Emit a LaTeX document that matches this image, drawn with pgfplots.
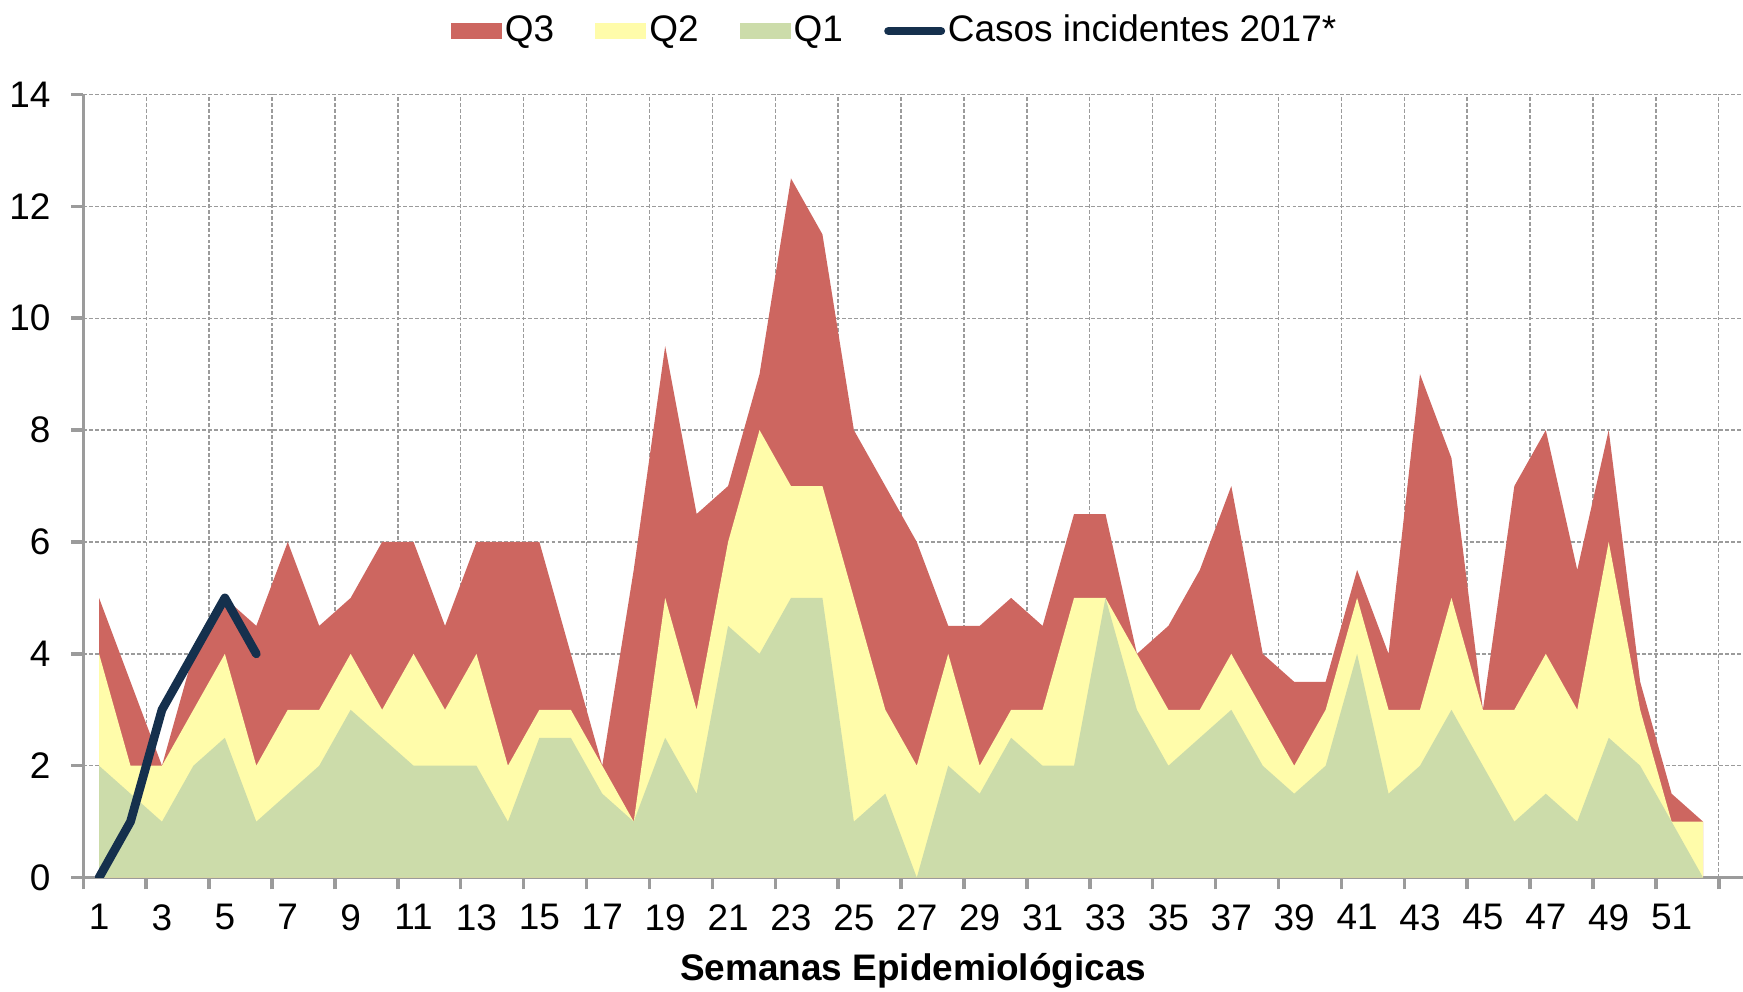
\documentclass[border=0pt]{standalone}
\usepackage{fontspec}
\setmainfont{Liberation Sans}
\usepackage{pgfplots}
\usepackage{pgfplotstable}
\pgfplotsset{compat=1.18}

\definecolor{cQ3}{RGB}{205,102,96}
\definecolor{cQ2}{RGB}{255,252,170}
\definecolor{cQ1}{RGB}{204,220,170}
\definecolor{cCasos}{RGB}{21,48,77}
\definecolor{cGrid}{RGB}{155,155,155}

% quartiles per epidemiological week
\pgfplotstableread{
sem q3  q2 q1
1   5   4  2
2   3.5 2  1.5
3   2   2  1
4   4   3  2
5   5   4  2.5
6   4.5 2  1
7   6   3  1.5
8   4.5 3  2
9   5   4  3
10  6   3  2.5
11  6   4  2
12  4.5 3  2
13  6   4  2
14  6   2  1
15  6   3  2.5
16  4   3  2.5
17  2   2  1.5
18  5.5 1  1
19  9.5 5  2.5
20  6.5 3  1.5
21  7   6  4.5
22  9   8  4
23  12.5 7 5
24  11.5 7 5
25  8   5  1
26  7   3  1.5
27  6   2  0
28  4.5 4  2
29  4.5 2  1.5
30  5   3  2.5
31  4.5 3  2
32  6.5 5  2
33  6.5 5  5
34  4   4  3
35  4.5 3  2
36  5.5 3  2.5
37  7   4  3
38  4   3  2
39  3.5 2  1.5
40  3.5 3  2
41  5.5 5  4
42  4   3  1.5
43  9   3  2
44  7.5 5  3
45  3   3  2
46  7   3  1
47  8   4  1.5
48  5.5 3  1
49  8   6  2.5
50  3.5 3  2
51  1.5 1  1
52  1   1  0
}\quartiles

\pgfplotstableread{
sem casos
1 0
2 1
3 3
4 4
5 5
6 4
}\casos

\begin{document}
\begin{tikzpicture}
\begin{axis}[
  set layers=standard,
  scale only axis,
  width=476pt, height=224.6pt,
  xmin=0.5, xmax=53.27,
  ymin=0, ymax=14,
  axis x line*=bottom, axis y line*=left,
  axis line style={cGrid, line width=1pt},
  tick align=outside,
  major tick length=3.4pt,
  tick style={cGrid, line width=1pt},
  ytick={0,2,...,14},
  xtick={0.5,2.5,...,52.5},
  xticklabels={},
  extra x ticks={1,3,...,51},
  extra x tick style={major tick length=0pt, grid=none},
  xmajorgrids, ymajorgrids,
  grid style={cGrid, line width=0.4pt, dash pattern=on 1.1pt off 0.6pt},
  tick label style={font=\fontsize{10.6}{12}\selectfont,
    /pgf/number format/assume math mode=true},
  yticklabel style={xshift=-2.5pt},
  xticklabel style={yshift=-4.2pt},
  xlabel={\textbf{Semanas Epidemiológicas}},
  xlabel style={font=\fontsize{10.6}{12}\selectfont,
    at={(axis description cs:0.5,-0.1193)}, anchor=center},
  legend style={at={(0.489,1.081)}, anchor=center,
    legend columns=-1, draw=none, fill=none,
    font=\fontsize{10.6}{12}\selectfont,
    nodes={inner sep=0.8pt},
    /tikz/every even column/.append style={column sep=11pt}},
]
\addplot[fill=cQ3, draw=none,
  legend image code/.code={\fill[cQ3] (0pt,-2.4pt) rectangle (14.7pt,2.4pt);}]
  table[x=sem, y=q3] {\quartiles} \closedcycle;
\addlegendentry{Q3}
\addplot[fill=cQ2, draw=none,
  legend image code/.code={\fill[cQ2] (0pt,-2.4pt) rectangle (14.7pt,2.4pt);}]
  table[x=sem, y=q2] {\quartiles} \closedcycle;
\addlegendentry{Q2}
\addplot[fill=cQ1, draw=none,
  legend image code/.code={\fill[cQ1] (0pt,-2.4pt) rectangle (14.7pt,2.4pt);}]
  table[x=sem, y=q1] {\quartiles} \closedcycle;
\addlegendentry{Q1}
\addplot[cCasos, line width=2.5pt, line join=round, line cap=round, no marks,
  legend image code/.code={\draw[cCasos, line width=2.5pt, line cap=round] (0pt,0pt) -- (15pt,0pt);}]
  table[x=sem, y=casos] {\casos};
\addlegendentry{Casos incidentes 2017*}
\end{axis}
\pgfresetboundingbox
\path[use as bounding box] ([xshift=-23.9pt,yshift=-32.8pt]current axis.south west)
  rectangle ([yshift=27.1pt]current axis.north east);
\end{tikzpicture}
\end{document}
